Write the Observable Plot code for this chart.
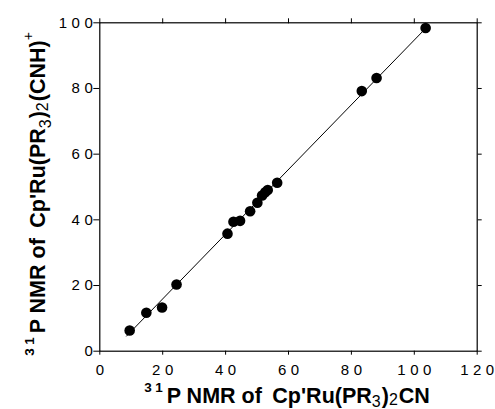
<!DOCTYPE html>
<html>
<head>
<meta charset="utf-8">
<script src="https://cdn.jsdelivr.net/npm/d3@7"></script>
<script src="https://cdn.jsdelivr.net/npm/@observablehq/plot@0.6"></script>
<style>
  html, body { margin: 0; padding: 0; background: #fff; }
  #chart svg { display: block; }
</style>
</head>
<body>
<div id="chart"></div>
<script>
// Data
const cyanideShift = [9.5, 14.8, 19.8, 24.4, 40.6, 42.5, 44.6, 47.8, 50.1, 51.6, 52.6, 53.4, 56.4, 83.3, 88.0, 103.6];
const isocyanideShift = [6.3, 11.7, 13.3, 20.3, 35.8, 39.4, 39.7, 42.6, 45.2, 47.4, 48.4, 49.1, 51.3, 79.2, 83.2, 98.4];
const fitLineX = [8.5, 103.6];
const fitLineY = [4.6, 98.3];
const xTicks = [0, 20, 40, 60, 80, 100, 120];
const yTicks = [0, 20, 40, 60, 80, 100];

const points = cyanideShift.map((x, i) => ({x, y: isocyanideShift[i]}));
const fit = fitLineX.map((x, i) => ({x, y: fitLineY[i]}));

const FONT = "'Liberation Sans', Arial, Helvetica, sans-serif";

const chart = Plot.plot({
  width: 495,
  height: 409,
  marginLeft: 99.3,
  marginRight: 18.3,
  marginTop: 22.3,
  marginBottom: 58.3,
  style: {fontFamily: FONT, color: "#000", background: "#fff"},
  x: {domain: [0, 120]},
  y: {domain: [0, 100]},
  marks: [
    Plot.frame({stroke: "#000", strokeWidth: 1.2}),
    Plot.axisX({anchor: "bottom", ticks: xTicks, tickSize: 4, tickPadding: 9.5, fontSize: 15, label: null, stroke: "#000"}),
    Plot.axisX({anchor: "top", ticks: xTicks, tickSize: 5, tickFormat: () => "", label: null, stroke: "#000"}),
    Plot.axisY({anchor: "left", ticks: yTicks, tickSize: 6, tickPadding: 1, fontSize: 15, label: null, stroke: "#000"}),
    Plot.axisY({anchor: "right", ticks: yTicks, tickSize: 4, tickFormat: () => "", label: null, stroke: "#000"}),
    Plot.line(fit, {x: "x", y: "y", stroke: "#000", strokeWidth: 1}),
    Plot.dot(points, {x: "x", y: "y", r: 5.3, fill: "#000", stroke: "none"})
  ]
});

document.getElementById("chart").appendChild(chart);

const svg = d3.select(chart);
// spaced-out tick digits: spacing only between characters
svg.selectAll('g[aria-label="x-axis tick label"] text, g[aria-label="y-axis tick label"] text')
  .attr("fill", "#000")
  .each(function () {
    const el = d3.select(this);
    const s = el.text();
    if (s.length < 2) return;
    el.text("");
    el.append("tspan").attr("letter-spacing", 4.5).text(s.slice(0, -1));
    el.append("tspan").text(s.slice(-1));
  });

// Axis titles with super/subscripts
function addRich(g, parts) {
  const t = g.append("text")
    .attr("font-family", FONT)
    .attr("font-weight", "bold")
    .attr("font-size", 21.5)
    .attr("fill", "#000")
    .attr("text-anchor", "middle");
  let shift = 0;
  for (const p of parts) {
    const target = p.shift || 0;
    const ts = t.append("tspan").text(p.text);
    const dy = target - shift;
    if (dy) ts.attr("dy", dy);
    shift = target;
    if (p.size) ts.attr("font-size", p.size);
    if (p.ls) ts.attr("letter-spacing", p.ls);
    if (p.dx) ts.attr("dx", p.dx);
    if (p.weight) ts.attr("font-weight", p.weight);
  }
  return t;
}

const xTitle = svg.append("g").attr("transform", "translate(287,402.5)");
addRich(xTitle, [
  {text: "3", size: 13.5, shift: -11, ls: 3.5},
  {text: "1", size: 13.5, shift: -11, ls: 0},
  {text: "P NMR of", shift: 0, dx: 4},
  {text: "Cp'Ru(PR", dx: 10.5},
  {text: "3", size: 16, shift: 4.5, weight: "normal"},
  {text: ")", shift: 0, dx: 1},
  {text: "2", size: 16, shift: 2.5, weight: "normal"},
  {text: "CN", shift: 0, dx: 1}
]);

const yTitle = svg.append("g").attr("transform", "translate(45,194) rotate(-90)");
addRich(yTitle, [
  {text: "3", size: 13.5, shift: -11.5, ls: 3.5},
  {text: "1", size: 13.5, shift: -11.5, ls: 0},
  {text: "P NMR of", shift: 0, dx: 4},
  {text: "Cp'Ru(PR", dx: 10.5},
  {text: "3", size: 16, shift: 6, weight: "normal"},
  {text: ")", shift: 0, dx: 1},
  {text: "2", size: 16, shift: 3, weight: "normal"},
  {text: "(CNH)", shift: 0, dx: 1},
  {text: "+", size: 14, shift: -12, weight: "normal"}
]);
</script>
</body>
</html>
